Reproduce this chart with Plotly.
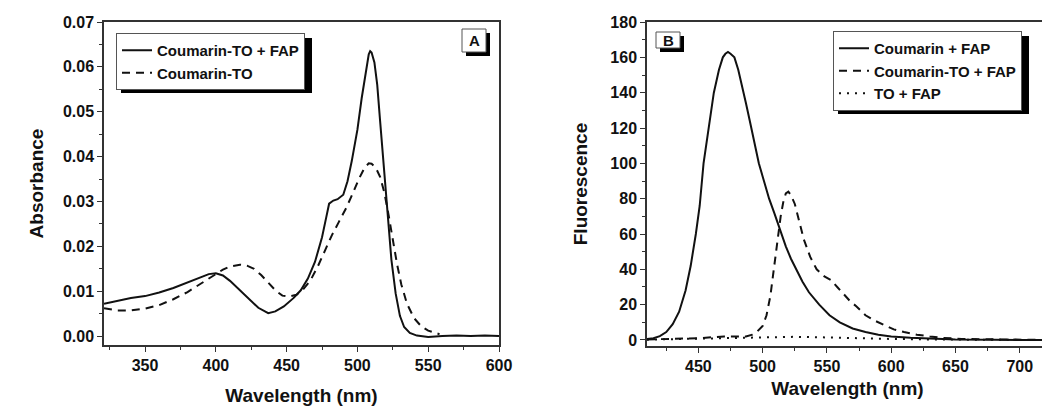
import plotly.graph_objects as go

# ---------- Panel A: absorbance ----------
abs_fap_x = [321, 330, 340, 350, 360, 370, 380, 390, 395, 400, 405, 410, 415, 420, 425, 430, 437, 442, 448, 455,
             460, 465, 470, 475, 478, 480, 483, 486, 490, 493, 496, 500, 503, 506, 508, 509, 510, 512, 514, 516,
             518, 520, 522, 524, 527, 530, 533, 537, 542, 550, 560, 570, 580, 590, 600]
abs_fap_y = [0.0072, 0.0078, 0.0085, 0.0089, 0.0097, 0.0107, 0.0120, 0.0133, 0.0138, 0.0140, 0.0135, 0.0123, 0.0108,
             0.0092, 0.0077, 0.0063, 0.0051, 0.0055, 0.0066, 0.0085, 0.0102, 0.0128, 0.0165, 0.0220, 0.0265, 0.0295,
             0.0302, 0.0305, 0.0315, 0.0345, 0.0390, 0.0460, 0.0530, 0.0595, 0.0628, 0.0635, 0.0632, 0.0610, 0.0560,
             0.0480, 0.0400, 0.0320, 0.0240, 0.0170, 0.0095, 0.0045, 0.0020, 0.0007, 0.0001, -0.0002, 0.0000, 0.0001,
             0.0000, 0.0001, 0.0000]

abs_free_x = [321, 330, 340, 350, 360, 370, 380, 390, 400, 405, 410, 417, 422, 427, 432, 437, 442, 447, 452, 457,
              462, 467, 472, 477, 482, 487, 492, 497, 501, 505, 508, 510, 513, 516, 519, 522, 525, 528, 531, 535,
              540, 545, 550, 555, 558]
abs_free_y = [0.0062, 0.0057, 0.0057, 0.0061, 0.0069, 0.0082, 0.0098, 0.0118, 0.0138, 0.0148, 0.0155, 0.0159, 0.0157,
              0.0150, 0.0136, 0.0118, 0.0102, 0.0090, 0.0088, 0.0092, 0.0105, 0.0125, 0.0155, 0.0190, 0.0225, 0.0255,
              0.0285, 0.0320, 0.0350, 0.0375, 0.0385, 0.0384, 0.0375, 0.0355, 0.0320, 0.0270, 0.0215, 0.0160, 0.0115,
              0.0072, 0.0040, 0.0022, 0.0012, 0.0006, 0.0004]

# ---------- Panel B: fluorescence ----------
flu_cou_x = [410, 415, 420, 425, 430, 435, 440, 444, 448, 451, 454, 458, 462, 466, 469, 471, 473, 475, 478, 481,
             484, 487, 490, 494, 497, 501, 505, 509, 513, 518, 522, 526, 531, 536, 544, 552, 560, 570, 580, 590,
             600, 615, 630, 650, 680, 720]
flu_cou_y = [0.5, 1.0, 2.2, 4.5, 9.0, 16, 28, 42, 60, 76, 100, 120, 140, 153, 160, 162, 163, 162, 160, 153,
             144, 134, 124, 110, 100, 90, 80, 72, 63, 53, 46, 40, 33, 27, 20, 14, 10, 6.5, 4.5, 3.0,
             2.0, 1.2, 0.7, 0.3, 0.1, 0.0]

flu_cto_x = [410, 430, 450, 460, 470, 480, 487, 492, 496, 500, 503, 506, 509, 512, 514, 516, 518, 520, 522, 525,
             528, 532, 537, 542, 548, 553, 558, 563, 568, 573, 580, 587, 594, 602, 610, 620, 630, 640, 655, 675,
             700, 720]
flu_cto_y = [0.3, 0.5, 1.0, 1.5, 2.0, 2.0, 2.0, 3.0, 5.0, 8.0, 14, 25, 42, 60, 70, 78, 83, 84, 82, 77,
             68, 57, 47, 40, 36, 34, 30, 26, 22, 19, 14, 11, 8.5, 6.0, 4.5, 3.0, 2.0, 1.2, 0.6, 0.3,
             0.1, 0.0]

flu_to_x = [410, 440, 470, 490, 510, 525, 540, 560, 580, 600, 630, 660, 700, 720]
flu_to_y = [0.2, 0.6, 1.0, 1.3, 1.7, 1.8, 1.6, 1.2, 0.9, 0.6, 0.3, 0.15, 0.05, 0.0]

FONT = "Liberation Sans"
BLACK = "#111111"

fig = go.Figure()
fig.add_trace(go.Scatter(x=abs_fap_x, y=abs_fap_y, mode="lines", name="Coumarin-TO + FAP",
                         line=dict(color=BLACK, width=2), xaxis="x", yaxis="y", legend="legend"))
fig.add_trace(go.Scatter(x=abs_free_x, y=abs_free_y, mode="lines", name="Coumarin-TO",
                         line=dict(color=BLACK, width=2, dash="8px,6px"), xaxis="x", yaxis="y", legend="legend"))
fig.add_trace(go.Scatter(x=flu_cou_x, y=flu_cou_y, mode="lines", name="Coumarin + FAP",
                         line=dict(color=BLACK, width=2), xaxis="x2", yaxis="y2", legend="legend2"))
fig.add_trace(go.Scatter(x=flu_cto_x, y=flu_cto_y, mode="lines", name="Coumarin-TO + FAP",
                         line=dict(color=BLACK, width=2, dash="8px,6px"), xaxis="x2", yaxis="y2", legend="legend2"))
fig.add_trace(go.Scatter(x=flu_to_x, y=flu_to_y, mode="lines", name="TO + FAP",
                         line=dict(color=BLACK, width=2, dash="2px,6px"), xaxis="x2", yaxis="y2", legend="legend2"))

# page body has an 8px margin: the figure is sized and positioned to compensate
OFF = 8
W, H = 1050 - OFF, 407 - OFF
ML, MR, MT, MB = 104 - OFF, 2, 22 - OFF, 407 - 346
PW, PH = W - ML - MR, H - MT - MB


def px(xp):  # reference-page pixel -> paper x
    return (xp - OFF - ML) / PW


def py(yp):  # reference-page pixel -> paper y
    return (H - MB - (yp - OFF)) / PH


tickfont = dict(family=FONT, size=16, color=BLACK, weight="bold")
titlefont = dict(family=FONT, size=19, color=BLACK, weight="bold")
legfont = dict(family=FONT, size=15, color=BLACK, weight="bold")
axis_common = dict(showgrid=False, zeroline=False, showline=True, linecolor="#333333", linewidth=1.5,
                   mirror=True, ticks="outside", ticklen=5, tickwidth=1.2, tickcolor="#333333",
                   tickfont=tickfont, automargin=False)

fig.update_layout(
    width=W, height=H, margin=dict(l=ML, r=MR, t=MT, b=MB),
    paper_bgcolor="white", plot_bgcolor="white",
    xaxis=dict(domain=[px(104), px(499)], range=[321, 600], dtick=50, tick0=0,
               minor=dict(ticks="outside", ticklen=3, dtick=25, tickcolor="#333333"),
               title=dict(text="Wavelength (nm)", font=titlefont, standoff=16), anchor="y", **axis_common),
    yaxis=dict(domain=[py(345), py(22)], range=[-0.002, 0.07], dtick=0.01, tickformat=".2f",
               minor=dict(ticks="outside", ticklen=3, dtick=0.005, tickcolor="#333333"),
               title=dict(text="Absorbance", font=titlefont, standoff=14), anchor="x", **axis_common),
    xaxis2=dict(domain=[px(647), px(1048)], range=[410, 722], dtick=50, tick0=0,
                minor=dict(ticks="outside", ticklen=3, dtick=25, tickcolor="#333333"),
                title=dict(text="Wavelength (nm)", font=titlefont, standoff=8), anchor="y2", **axis_common),
    yaxis2=dict(domain=[py(346), py(22)], range=[-3.4, 180], dtick=20,
                minor=dict(ticks="outside", ticklen=3, dtick=10, tickcolor="#333333"),
                title=dict(text="Fluorescence", font=titlefont, standoff=18), anchor="x2", **axis_common),
    legend=dict(x=px(116), y=py(33), xanchor="left", yanchor="top", bgcolor="white",
                bordercolor="#555555", borderwidth=1, font=legfont, tracegroupgap=0),
    legend2=dict(x=px(833), y=py(31), xanchor="left", yanchor="top", bgcolor="white",
                 bordercolor="#555555", borderwidth=1, font=legfont, tracegroupgap=0),
    showlegend=True,
)

shapes = []
# legend shadows (drawn beneath legend boxes)
shapes.append(dict(type="rect", xref="paper", yref="paper", x0=px(121), x1=px(312), y0=py(93), y1=py(38),
                   fillcolor="black", line=dict(width=0), layer="above"))
shapes.append(dict(type="rect", xref="paper", yref="paper", x0=px(838), x1=px(1029), y0=py(114), y1=py(36),
                   fillcolor="black", line=dict(width=0), layer="above"))
# panel label boxes with shadows
shapes.append(dict(type="rect", xref="paper", yref="paper", x0=px(466), x1=px(490), y0=py(56), y1=py(33),
                   fillcolor="black", line=dict(width=0), layer="above"))
shapes.append(dict(type="rect", xref="paper", yref="paper", x0=px(462), x1=px(486), y0=py(52), y1=py(29),
                   fillcolor="white", line=dict(width=1, color="#555555"), layer="above"))
shapes.append(dict(type="rect", xref="paper", yref="paper", x0=px(660), x1=px(684), y0=py(52), y1=py(36),
                   fillcolor="black", line=dict(width=0), layer="above"))
shapes.append(dict(type="rect", xref="paper", yref="paper", x0=px(656), x1=px(680), y0=py(48), y1=py(32),
                   fillcolor="white", line=dict(width=1, color="#555555"), layer="above"))
fig.update_layout(shapes=shapes)

fig.add_annotation(text="A", x=px(474), y=py(40.5), xref="paper", yref="paper", showarrow=False,
                   xanchor="center", yanchor="middle", font=dict(family=FONT, size=15, color=BLACK, weight="bold"))
fig.add_annotation(text="B", x=px(668), y=py(40), xref="paper", yref="paper", showarrow=False,
                   xanchor="center", yanchor="middle", font=dict(family=FONT, size=15, color=BLACK, weight="bold"))

fig.write_html("out.html")
